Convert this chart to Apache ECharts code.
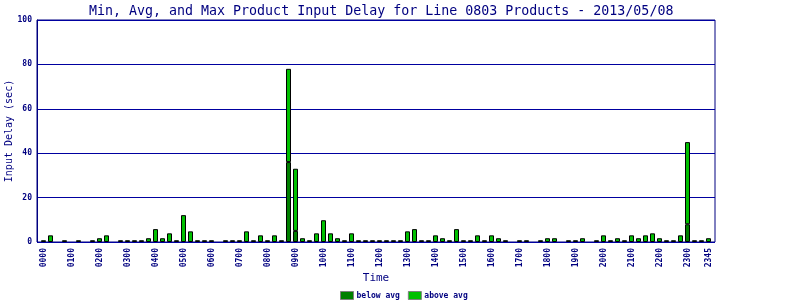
<!DOCTYPE html>
<html>
<head>
<meta charset="utf-8">
<script src="https://cdn.jsdelivr.net/npm/echarts@6/dist/echarts.min.js"></script>
<style>html,body{margin:0;padding:0;background:#fff}#c{width:800px;height:300px}</style>
</head>
<body>
<div id="c"></div>
<script>
var categories = ['0000','0015','0030','0045','0100','0115','0130','0145','0200','0215','0230','0245',
'0300','0315','0330','0345','0400','0415','0430','0445','0500','0515','0530','0545',
'0600','0615','0630','0645','0700','0715','0730','0745','0800','0815','0830','0845',
'0900','0915','0930','0945','1000','1015','1030','1045','1100','1115','1130','1145',
'1200','1215','1230','1245','1300','1315','1330','1345','1400','1415','1430','1445',
'1500','1515','1530','1545','1600','1615','1630','1645','1700','1715','1730','1745',
'1800','1815','1830','1845','1900','1915','1930','1945','2000','2015','2030','2045',
'2100','2115','2130','2145','2200','2215','2230','2245','2300','2315','2330','2345'];

var belowAvg = [null,null,null,null,null,null,null,null,null,null,null,null,
null,null,null,null,null,null,null,null,null,null,null,null,
null,null,null,null,null,null,null,null,null,null,null,36,
5,null,null,null,null,null,null,null,null,null,null,null,
null,null,null,null,null,null,null,null,null,null,null,null,
null,null,null,null,null,null,null,null,null,null,null,null,
null,null,null,null,null,null,null,null,null,null,null,null,
null,null,null,null,null,null,null,null,8,null,null,null];

var aboveAvg = [0.8,3,null,0.8,null,0.8,null,0.8,1.7,3,null,0.8,
0.8,0.8,0.8,1.7,5.8,1.7,3.9,0.8,12.1,4.8,0.8,0.8,
0.8,null,0.8,0.8,0.8,4.8,0.8,3,0.8,3,0.8,42,
28,1.7,0.8,3.9,9.8,3.9,1.7,0.8,3.9,0.8,0.8,0.8,
0.8,0.8,0.8,0.8,4.8,5.8,0.8,0.8,3,1.7,0.8,5.8,
0.8,0.8,3,0.8,3,1.7,0.8,null,0.8,0.8,null,0.8,
1.7,1.7,null,0.8,0.8,1.7,null,0.8,3,0.8,1.7,0.8,
3,1.7,3,3.9,1.7,0.8,0.8,3,37,0.8,0.8,1.7];

var yTicks = {min: 0, max: 100, interval: 20};

var NAVY = '#000080';
var MONO = 'DejaVu Sans Mono';
var chart = echarts.init(document.getElementById('c'), null, {renderer: 'canvas'});
chart.setOption({
  animation: false,
  backgroundColor: '#ffffff',
  title: {
    text: 'Min, Avg, and Max Product Input Delay for Line 0803 Products - 2013/05/08',
    left: 84, top: 0,
    textStyle: {fontFamily: MONO, fontSize: 13.3, fontWeight: 'normal', color: NAVY}
  },
  legend: {
    left: 335, top: 286, itemGap: 8, itemWidth: 13, itemHeight: 8,
    icon: 'rect',
    itemStyle: {borderColor: '#808080', borderWidth: 1},
    textStyle: {fontFamily: MONO, fontSize: 8, fontWeight: 'bold', color: NAVY, padding: [0,0,0,-2]},
    data: ['below avg', 'above avg']
  },
  grid: [
    {left: 37, right: 85, top: 20, bottom: 58, show: true, borderColor: NAVY, borderWidth: 1,
     backgroundColor: 'transparent', containLabel: false, outerBoundsMode: 'none'},
    {left: 40, right: 88, top: 20, bottom: 58, show: false, containLabel: false, outerBoundsMode: 'none'}
  ],
  xAxis: [
    {type: 'value', gridIndex: 0, min: 0, max: 1, show: false},
    {
      type: 'category', gridIndex: 1, data: categories,
      name: 'Time', nameLocation: 'middle', nameGap: 31, nameMoveOverlap: false,
      nameTextStyle: {fontFamily: MONO, fontSize: 11, color: NAVY},
      axisLine: {show: false}, axisTick: {show: false},
      axisLabel: {
        interval: function (i) { return i % 4 === 0 || i === categories.length - 1; },
        rotate: 90, margin: 6, fontFamily: MONO, fontSize: 8, fontWeight: 'bold', color: NAVY
      }
    }
  ],
  yAxis: [
    {
      type: 'value', gridIndex: 0, min: yTicks.min, max: yTicks.max, interval: yTicks.interval,
      name: 'Input Delay (sec)', nameLocation: 'middle', nameGap: 23, nameMoveOverlap: false,
      nameTextStyle: {fontFamily: MONO, fontSize: 10, color: NAVY},
      axisLine: {show: true, lineStyle: {color: NAVY}}, axisTick: {show: false},
      axisLabel: {margin: 5, fontFamily: MONO, fontSize: 8, fontWeight: 'bold', color: NAVY},
      splitLine: {show: true, lineStyle: {color: '#0000a0', width: 1}}
    },
    {type: 'value', gridIndex: 1, min: yTicks.min, max: yTicks.max, show: false,
     splitLine: {show: false}}
  ],
  series: [
    {
      name: 'below avg', type: 'bar', stack: 'd', xAxisIndex: 1, yAxisIndex: 1,
      data: belowAvg, barWidth: 5,
      itemStyle: {color: '#008000', borderColor: '#000000', borderWidth: 1}
    },
    {
      name: 'above avg', type: 'bar', stack: 'd', xAxisIndex: 1, yAxisIndex: 1,
      data: aboveAvg, barWidth: 5,
      itemStyle: {color: '#00c000', borderColor: '#000000', borderWidth: 1}
    }
  ]
});
</script>
</body>
</html>
